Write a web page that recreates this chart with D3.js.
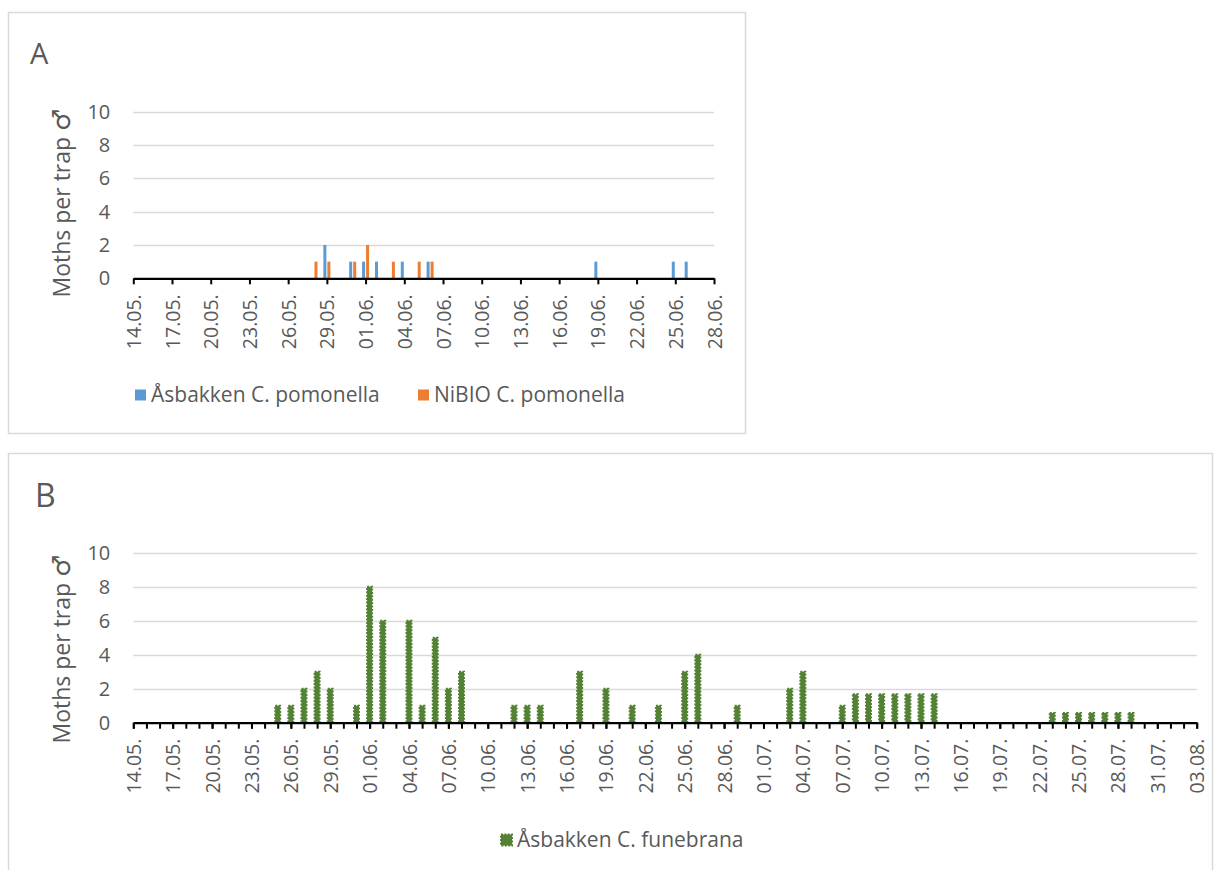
<!DOCTYPE html>
<html><head><meta charset="utf-8">
<script src="https://cdn.jsdelivr.net/npm/d3@7"></script>
<style>
body{margin:0;background:#fff;}
text{font-family:"Open Sans",sans-serif;fill:#595959;}
</style></head><body>
<svg id="chart" width="1215" height="870"></svg>
<script>
// ---------- DATA ----------
const yTicks = [0, 2, 4, 6, 8, 10];
const yTitleText = "Moths per trap ";
const yTitleSymbol = "\u2642";

// Panel A
const tickLabelsA = ["14.05.","17.05.","20.05.","23.05.","26.05.","29.05.","01.06.","04.06.","07.06.","10.06.","13.06.","16.06.","19.06.","22.06.","25.06.","28.06."];
const seriesNamesA = ["Åsbakken C. pomonella", "NiBIO C. pomonella"];
const asbakkenPomDates = ["29.05","31.05","01.06","02.06","04.06","06.06","19.06","25.06","26.06"];
const asbakkenPomValues = [2, 1, 1, 1, 1, 1, 1, 1, 1];
const nibioPomDates = ["28.05","29.05","31.05","01.06","03.06","05.06","06.06"];
const nibioPomValues = [1, 1, 1, 2, 1, 1, 1];

// Panel B
const tickLabelsB = ["14.05.","17.05.","20.05.","23.05.","26.05.","29.05.","01.06.","04.06.","07.06.","10.06.","13.06.","16.06.","19.06.","22.06.","25.06.","28.06.","01.07.","04.07.","07.07.","10.07.","13.07.","16.07.","19.07.","22.07.","25.07.","28.07.","31.07.","03.08."];
const seriesNameB = "Åsbakken C. funebrana";
const funebranaDates = ["25.05","26.05","27.05","28.05","29.05","31.05","01.06","02.06","04.06","05.06","06.06","07.06","08.06","12.06","13.06","14.06","17.06","19.06","21.06","23.06","25.06","26.06","29.06","03.07","04.07","07.07","08.07","09.07","10.07","11.07","12.07","13.07","14.07","23.07","24.07","25.07","26.07","27.07","28.07","29.07"];
const funebranaValues = [1,1,2,3,2,1,8,6,6,1,5,2,3,1,1,1,3,2,1,1,3,4,1,2,3,1,1.67,1.67,1.67,1.67,1.67,1.67,1.67,0.57,0.57,0.57,0.57,0.57,0.57,0.57];

// ---------- HELPERS ----------
const parse = s => d3.utcParse("%d.%m.%Y")(s.replace(/\.$/, "") + ".2020");
const svg = d3.select("#chart");
svg.append("rect").attr("width",1215).attr("height",870).attr("fill","#fff");

const colBlue = "#5b9bd5", colOrange = "#ed7d31", colGreen = "#548235";

function panel(cfg) {
  const g = svg.append("g");
  g.append("rect").attr("x", cfg.frame[0]).attr("y", cfg.frame[1])
    .attr("width", cfg.frame[2]).attr("height", cfg.frame[3])
    .attr("fill", "none").attr("stroke", "#d9d9d9").attr("stroke-width", 1.5);
  g.append("text").attr("x", cfg.letterPos[0]).attr("y", cfg.letterPos[1])
    .attr("font-size", cfg.letterSize).text(cfg.letter);

  const ticks = cfg.tickLabels.map(parse);
  const x = d3.scaleUtc().domain([ticks[0], ticks[ticks.length - 1]]).range([cfg.x0, cfg.x1]);
  const y = d3.scaleLinear().domain([0, 10]).range([cfg.yBase, cfg.yTop]);

  g.append("g").selectAll("line").data(yTicks.filter(v => v > 0)).join("line")
    .attr("x1", cfg.x0).attr("x2", cfg.x1)
    .attr("y1", d => Math.round(y(d)) + 0.5).attr("y2", d => Math.round(y(d)) + 0.5)
    .attr("stroke", "#d9d9d9").attr("stroke-width", 1.5);

  const ya = g.append("g").attr("transform", `translate(${cfg.x0},0)`)
    .call(d3.axisLeft(y).tickValues(yTicks).tickSize(0).tickPadding(23));
  ya.select(".domain").remove();
  ya.selectAll("text").attr("font-size", 20).attr("font-family", "Open Sans").attr("fill", "#595959");

  const t = g.append("text").attr("transform", `translate(${cfg.titleX},${cfg.titleY}) rotate(-90)`)
    .attr("text-anchor", "middle").attr("font-size", 23);
  t.append("tspan").text(yTitleText);
  t.append("tspan").attr("font-family", "DejaVu Sans").attr("font-size", 25).text(yTitleSymbol);

  cfg.series.forEach(s => {
    g.append("g").selectAll("rect").data(s.dates.map((d, i) => ({ d: parse(d), v: s.values[i] }))).join("rect")
      .attr("x", d => x(d.d) + s.offset - s.width / 2)
      .attr("y", d => y(d.v))
      .attr("width", s.width)
      .attr("height", d => y(0) - y(d.v))
      .attr("fill", s.color)
      .attr("stroke", s.notched ? s.color : "none")
      .attr("stroke-width", s.notched ? 2 : 0)
      .attr("stroke-dasharray", s.notched ? "2 1.4" : null);
  });

  if (cfg.dailyTicks) {
    const days = d3.utcDay.range(ticks[0], d3.utcDay.offset(ticks[ticks.length - 1], 1));
    const ma = g.append("g").attr("transform", `translate(0,${cfg.yBase})`)
      .call(d3.axisBottom(x).tickValues(days).tickFormat("").tickSize(6).tickSizeOuter(0));
    ma.select(".domain").remove();
    ma.selectAll("line").attr("stroke", "#000").attr("stroke-width", 2);
  }
  const xa = g.append("g").attr("transform", `translate(0,${cfg.yBase})`)
    .call(d3.axisBottom(x).tickValues(ticks).tickFormat((d, i) => cfg.tickLabels[i]).tickSize(6).tickSizeOuter(0));
  xa.select(".domain").attr("stroke", "#000").attr("stroke-width", 2.2);
  xa.selectAll(".tick line").attr("stroke", "#000").attr("stroke-width", 2);
  xa.selectAll("text")
    .attr("font-size", 19.5).attr("font-family", "Open Sans").attr("fill", "#595959")
    .attr("transform", "rotate(-90)").attr("text-anchor", "end")
    .attr("x", -16).attr("y", 0).attr("dy", "0.36em");

  cfg.legend.forEach(l => {
    g.append("rect").attr("x", l.x).attr("y", l.y - 5.5).attr("width", 11).attr("height", 11)
      .attr("fill", l.color).attr("stroke", l.notched ? l.color : "none")
      .attr("stroke-width", l.notched ? 2 : 0).attr("stroke-dasharray", l.notched ? "2 1.4" : null);
    g.append("text").attr("x", l.x + 16).attr("y", l.y).attr("dy", "0.35em")
      .attr("font-size", 21).text(l.text);
  });
}

panel({
  frame: [8.5, 12.5, 737, 421], letter: "A", letterPos: [30, 64], letterSize: 29,
  tickLabels: tickLabelsA, x0: 133.3, x1: 714, yBase: 278.3, yTop: 111.7,
  titleX: 70, titleY: 203,
  series: [
    { dates: asbakkenPomDates, values: asbakkenPomValues, color: colBlue, offset: -2, width: 3 },
    { dates: nibioPomDates, values: nibioPomValues, color: colOrange, offset: 2, width: 3 }
  ],
  legend: [
    { x: 135, y: 395, color: colBlue, text: seriesNamesA[0] },
    { x: 418, y: 395, color: colOrange, text: seriesNamesA[1] }
  ]
});

panel({
  frame: [8.5, 453.5, 1204, 430], letter: "B", letterPos: [35, 507], letterSize: 32,
  tickLabels: tickLabelsB, x0: 133.3, x1: 1196.7, yBase: 722.7, yTop: 552.7,
  titleX: 70, titleY: 649, dailyTicks: true,
  series: [
    { dates: funebranaDates, values: funebranaValues, color: colGreen, notched: true, offset: 0, width: 5 }
  ],
  legend: [
    { x: 501, y: 840, color: colGreen, notched: true, text: seriesNameB }
  ]
});
</script>
</body></html>
